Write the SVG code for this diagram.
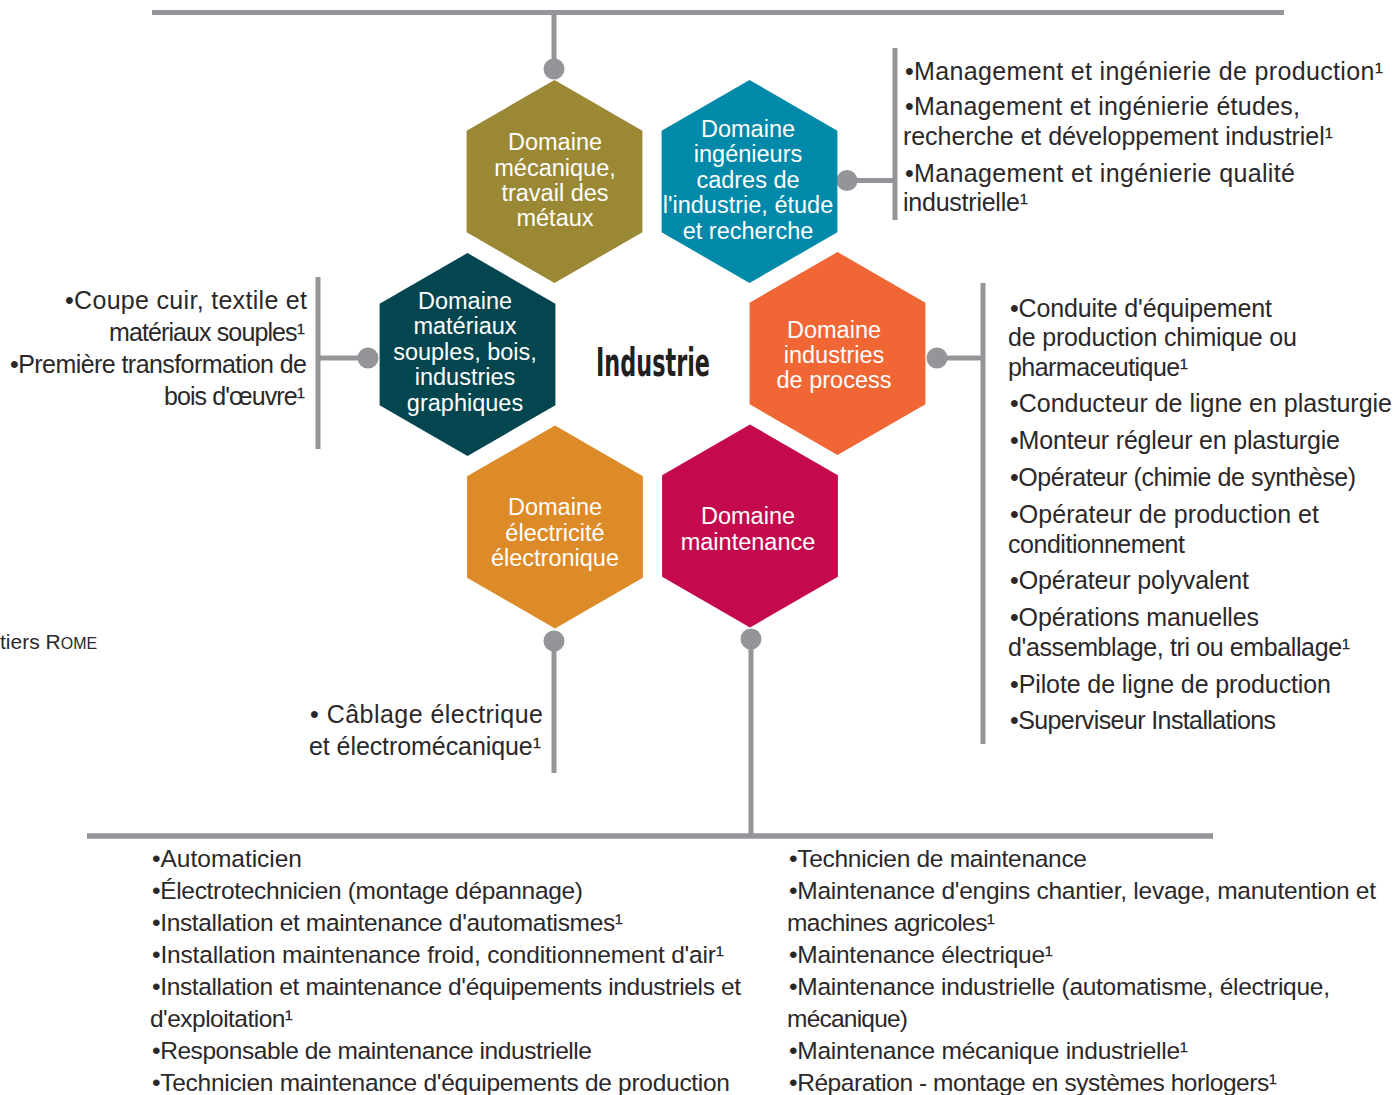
<svg xmlns="http://www.w3.org/2000/svg" xmlns:xlink="http://www.w3.org/1999/xlink" width="1397" height="1095" viewBox="0 0 1397 1095">
  <defs>
    <!-- pointy-top hexagon, circumradius 101.5, centred on the origin -->
    <path id="hex" d="M0,-101.5 L87.9,-50.75 L87.9,50.75 L0,101.5 L-87.9,50.75 L-87.9,-50.75 Z"/>
    <style>
      .conn { stroke:#939598; stroke-width:5; fill:none; }
      .dot { fill:#939598; }
      .hex-label { font-family:"Liberation Sans", Arial, sans-serif; font-size:23.5px; fill:#ffffff; text-anchor:middle; }
      .item { font-family:"Liberation Sans", Arial, sans-serif; font-size:25px; fill:#2b2829; }
      .item-b { font-family:"Liberation Sans", Arial, sans-serif; font-size:24.5px; fill:#2b2829; }
      .end { text-anchor:end; }
      .title { font-family:"Liberation Sans Narrow", "DejaVu Sans Condensed", "Liberation Sans", sans-serif; font-weight:bold; font-size:39px; fill:#231f20; text-anchor:middle; }
      .note { font-family:"Liberation Sans", Arial, sans-serif; font-size:21px; fill:#2b2829; }
    </style>
  </defs>

  <rect width="1397" height="1095" fill="#ffffff"/>

  <!-- connectors: rails, stems and end dots -->
  <g id="connectors">
    <line class="conn" x1="152" y1="12.5" x2="1284" y2="12.5"/>
    <line class="conn" x1="554" y1="12" x2="554" y2="69"/>
    <circle class="dot" cx="554" cy="69" r="10.5"/>

    <line class="conn" x1="847" y1="180.5" x2="895" y2="180.5"/>
    <line class="conn" x1="895" y1="48" x2="895" y2="220"/>
    <circle class="dot" cx="847" cy="180.5" r="10.5"/>

    <line class="conn" x1="318" y1="358" x2="368" y2="358"/>
    <line class="conn" x1="318" y1="277" x2="318" y2="449"/>
    <circle class="dot" cx="368" cy="358" r="10.5"/>

    <line class="conn" x1="937" y1="358" x2="983" y2="358"/>
    <line class="conn" x1="983" y1="283" x2="983" y2="744"/>
    <circle class="dot" cx="937" cy="358" r="10.5"/>

    <line class="conn" x1="554" y1="641" x2="554" y2="773"/>
    <circle class="dot" cx="554" cy="641" r="10.5"/>

    <line class="conn" x1="751" y1="639" x2="751" y2="836"/>
    <circle class="dot" cx="751" cy="639" r="10.5"/>
    <line class="conn" x1="87" y1="836" x2="1213" y2="836" style="stroke-width:5.5"/>
  </g>

  <!-- centre title -->
  <g id="centre">
    <text class="title" x="653" y="376" textLength="114" lengthAdjust="spacingAndGlyphs">Industrie</text>
  </g>

  <!-- domain hexagons -->
  <g id="mecanique">
    <use xlink:href="#hex" href="#hex" x="554.5" y="181.5" fill="#9b8835"/>
    <text class="hex-label" x="555" y="150">Domaine</text>
    <text class="hex-label" x="555" y="175.5">mécanique,</text>
    <text class="hex-label" x="555" y="201">travail des</text>
    <text class="hex-label" x="555" y="226">métaux</text>
  </g>

  <g id="ingenieurs">
    <use xlink:href="#hex" href="#hex" x="749.5" y="181.5" fill="#0089a8"/>
    <text class="hex-label" x="748" y="137">Domaine</text>
    <text class="hex-label" x="748" y="162">ingénieurs</text>
    <text class="hex-label" x="748" y="188">cadres de</text>
    <text class="hex-label" x="748" y="213">l'industrie, étude</text>
    <text class="hex-label" x="748" y="238.5">et recherche</text>
  </g>

  <g id="materiaux">
    <use xlink:href="#hex" href="#hex" x="467.5" y="354.5" fill="#034650"/>
    <text class="hex-label" x="465" y="308.5">Domaine</text>
    <text class="hex-label" x="465" y="334">matériaux</text>
    <text class="hex-label" x="465" y="359.5">souples, bois,</text>
    <text class="hex-label" x="465" y="385">industries</text>
    <text class="hex-label" x="465" y="410.5">graphiques</text>
  </g>

  <g id="process">
    <use xlink:href="#hex" href="#hex" x="837.5" y="353.5" fill="#f06634"/>
    <text class="hex-label" x="834" y="337.5">Domaine</text>
    <text class="hex-label" x="834" y="363">industries</text>
    <text class="hex-label" x="834" y="388">de process</text>
  </g>

  <g id="electricite">
    <use xlink:href="#hex" href="#hex" x="555" y="527" fill="#dd8a28"/>
    <text class="hex-label" x="555" y="515">Domaine</text>
    <text class="hex-label" x="555" y="540.5">électricité</text>
    <text class="hex-label" x="555" y="565.5">électronique</text>
  </g>

  <g id="maintenance">
    <use xlink:href="#hex" href="#hex" x="750" y="526" fill="#c4094e"/>
    <text class="hex-label" x="748" y="523.5">Domaine</text>
    <text class="hex-label" x="748" y="549.5">maintenance</text>
  </g>

  <!-- job lists attached to each domain -->
  <g id="list-ingenieurs">
    <text class="item" x="905" y="80" textLength="478">•Management et ingénierie de production¹</text>
    <text class="item" x="905" y="115" textLength="395">•Management et ingénierie études,</text>
    <text class="item" x="903" y="145" textLength="430">recherche et développement industriel¹</text>
    <text class="item" x="905" y="182" textLength="390">•Management et ingénierie qualité</text>
    <text class="item" x="903" y="211" textLength="125">industrielle¹</text>
  </g>

  <g id="list-materiaux">
    <text class="item end" x="307" y="309" textLength="242">•Coupe cuir, textile et</text>
    <text class="item end" x="305" y="341" textLength="196">matériaux souples¹</text>
    <text class="item end" x="307" y="373" textLength="297">•Première transformation de</text>
    <text class="item end" x="305" y="405" textLength="141">bois d'œuvre¹</text>
  </g>

  <g id="list-process">
    <text class="item" x="1010" y="317" textLength="262">•Conduite d'équipement</text>
    <text class="item" x="1008" y="346" textLength="289">de production chimique ou</text>
    <text class="item" x="1008" y="376" textLength="180">pharmaceutique¹</text>
    <text class="item" x="1010" y="412" textLength="382">•Conducteur de ligne en plasturgie</text>
    <text class="item" x="1010" y="449" textLength="330">•Monteur régleur en plasturgie</text>
    <text class="item" x="1010" y="486" textLength="346">•Opérateur (chimie de synthèse)</text>
    <text class="item" x="1010" y="523" textLength="309">•Opérateur de production et</text>
    <text class="item" x="1008" y="553" textLength="177">conditionnement</text>
    <text class="item" x="1010" y="589" textLength="239">•Opérateur polyvalent</text>
    <text class="item" x="1010" y="626" textLength="249">•Opérations manuelles</text>
    <text class="item" x="1008" y="656" textLength="342">d'assemblage, tri ou emballage¹</text>
    <text class="item" x="1010" y="693" textLength="321">•Pilote de ligne de production</text>
    <text class="item" x="1010" y="729" textLength="266">•Superviseur Installations</text>
  </g>

  <g id="list-electricite">
    <text class="item end" x="543" y="723" textLength="233">• Câblage électrique</text>
    <text class="item end" x="541" y="755" textLength="232">et électromécanique¹</text>
  </g>

  <g id="list-maintenance-left">
    <text class="item-b" x="152" y="866.5" textLength="150">•Automaticien</text>
    <text class="item-b" x="152" y="898.5" textLength="431">•Électrotechnicien (montage dépannage)</text>
    <text class="item-b" x="152" y="930.5" textLength="471">•Installation et maintenance d'automatismes¹</text>
    <text class="item-b" x="152" y="962.5" textLength="572">•Installation maintenance froid, conditionnement d'air¹</text>
    <text class="item-b" x="152" y="994.5" textLength="589">•Installation et maintenance d'équipements industriels et</text>
    <text class="item-b" x="150" y="1026.5" textLength="143">d'exploitation¹</text>
    <text class="item-b" x="152" y="1058.5" textLength="440">•Responsable de maintenance industrielle</text>
    <text class="item-b" x="152" y="1090.5" textLength="578">•Technicien maintenance d'équipements de production</text>
  </g>

  <g id="list-maintenance-right">
    <text class="item-b" x="789" y="866.5" textLength="298">•Technicien de maintenance</text>
    <text class="item-b" x="789" y="898.5" textLength="587">•Maintenance d'engins chantier, levage, manutention et</text>
    <text class="item-b" x="787" y="930.5" textLength="208">machines agricoles¹</text>
    <text class="item-b" x="789" y="962.5" textLength="264">•Maintenance électrique¹</text>
    <text class="item-b" x="789" y="994.5" textLength="541">•Maintenance industrielle (automatisme, électrique,</text>
    <text class="item-b" x="787" y="1026.5" textLength="121">mécanique)</text>
    <text class="item-b" x="789" y="1058.5" textLength="399">•Maintenance mécanique industrielle¹</text>
    <text class="item-b" x="789" y="1090.5" textLength="488">•Réparation - montage en systèmes horlogers¹</text>
  </g>

  <!-- partial footnote at the left margin -->
  <text class="note" x="0" y="649">tiers R<tspan font-size="16">OME</tspan></text>
</svg>
